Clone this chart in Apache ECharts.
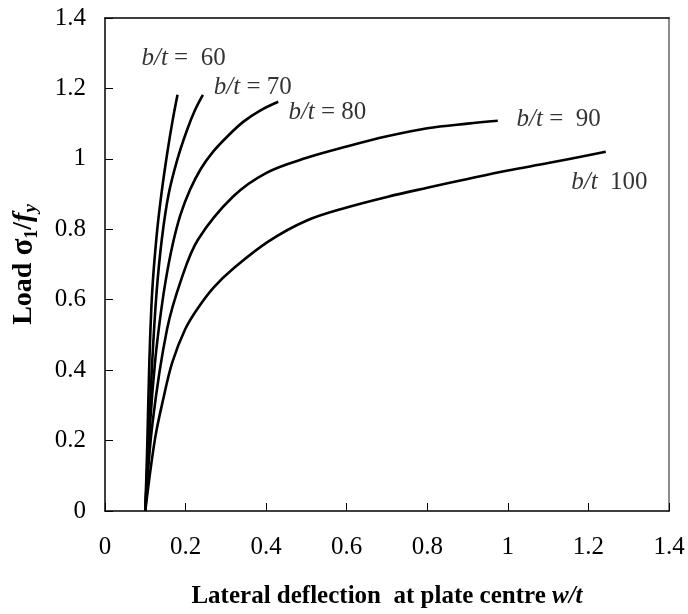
<!DOCTYPE html>
<html><head><meta charset="utf-8">
<script src="https://cdn.jsdelivr.net/npm/echarts@6/dist/echarts.min.js"></script>
<style>html,body{margin:0;padding:0;background:#fff}#c{width:688px;height:614px}</style>
</head><body><div id="c"></div>
<script>
// ---- data ----
const xTickMin = 0, xTickMax = 1.4, xTickStep = 0.2;
const yTickMin = 0, yTickMax = 1.4, yTickStep = 0.2;

const bt60 = [[0.1,0],[0.105,0.19],[0.11,0.42],[0.117,0.62],[0.128,0.78],[0.14,0.9],[0.155,1.02],[0.168,1.11],[0.18,1.182]];
const bt70 = [[0.1,0],[0.108,0.2],[0.117,0.42],[0.128,0.62],[0.141,0.771],[0.158,0.9],[0.18,1.0],[0.203,1.08],[0.224,1.14],[0.243,1.182]];
const bt80 = [[0.1,0],[0.112,0.25],[0.124,0.42],[0.136,0.54],[0.15,0.65],[0.167,0.752],[0.187,0.84],[0.211,0.912],[0.238,0.972],[0.268,1.02],[0.305,1.065],[0.343,1.105],[0.385,1.137],[0.43,1.162]];
const bt90 = [[0.1,0],[0.118,0.25],[0.154,0.516],[0.19,0.66],[0.231,0.771],[0.318,0.893],[0.402,0.961],[0.501,1.003],[0.6,1.035],[0.7,1.064],[0.8,1.087],[0.9,1.1],[0.975,1.108]];
const bt100 = [[0.1,0],[0.124,0.204],[0.145,0.32],[0.167,0.422],[0.199,0.516],[0.23,0.575],[0.27,0.635],[0.32,0.69],[0.405,0.765],[0.501,0.825],[0.6,0.862],[0.7,0.892],[0.8,0.918],[0.9,0.943],[1.0,0.967],[1.1,0.988],[1.243,1.02]];

const curves = [bt60, bt70, bt80, bt90, bt100];
const curveNames = ['b/t = 60', 'b/t = 70', 'b/t = 80', 'b/t = 90', 'b/t = 100'];

const labelTexts = ['{i|b/t}{n| =  60}', '{i|b/t}{n| = 70}', '{i|b/t}{n| = 80}', '{i|b/t}{n| =  90}', '{i|b/t}{n|  100}'];
const labelAnchors = [[0.195,1.284],[0.367,1.203],[0.552,1.132],[1.126,1.111],[1.252,0.932]];

const xTitle = '{b|Lateral deflection  at plate centre }{bi|w/t}';
const yTitle = '{b|Load }{s|σ}{sub|1}{b|/}{bi|f}{subi|y}';

// ---- chart ----
const FF = '"Liberation Serif","Times New Roman",serif';
const chart = echarts.init(document.getElementById('c'), null, {renderer:'canvas'});

const lineSeries = curves.map((d,i)=>({
  type:'line', name:curveNames[i], data:d, showSymbol:false, symbol:'none',
  smooth:0.35, lineStyle:{color:'#000', width:2.6}, silent:true, z:3
}));

const labelSeries = {
  type:'scatter', symbolSize:0, silent:true, z:4,
  data: labelAnchors.map((p,i)=>({name:labelTexts[i], value:p})),
  label:{
    show:true, position:'inside', formatter:p=>p.name, color:'#000',
    rich:{
      i:{fontFamily:FF, fontSize:25, fontStyle:'italic', color:'#000'},
      n:{fontFamily:FF, fontSize:25, color:'#000'}
    }
  }
};

const tickFmt = v => String(Math.round(v*10)/10);

chart.setOption({
  animation:false,
  backgroundColor:'#fff',
  grid:{left:105, right:19, top:18, bottom:102, containLabel:false},
  xAxis:[{
    type:'value', min:xTickMin, max:xTickMax, interval:xTickStep,
    axisLine:{show:true, onZero:false, lineStyle:{color:'#000', width:1.5}},
    axisTick:{show:true, inside:true, length:8, lineStyle:{color:'#000', width:1}},
    splitLine:{show:false},
    axisLabel:{color:'#000', fontFamily:FF, fontSize:25, margin:24, formatter:tickFmt},
    name:xTitle, nameLocation:'middle', nameGap:73,
    nameTextStyle:{rich:{
      b:{fontFamily:FF, fontSize:25, fontWeight:'bold', color:'#000'},
      bi:{fontFamily:FF, fontSize:25, fontWeight:'bold', fontStyle:'italic', color:'#000'}
    }}
  },{
    type:'value', position:'top', min:xTickMin, max:xTickMax,
    axisLine:{show:true, onZero:false, lineStyle:{color:'#000', width:1.5}},
    axisTick:{show:false}, axisLabel:{show:false}, splitLine:{show:false}
  }],
  yAxis:[{
    type:'value', min:yTickMin, max:yTickMax, interval:yTickStep,
    axisLine:{show:true, onZero:false, lineStyle:{color:'#000', width:1.5}},
    axisTick:{show:true, inside:true, length:8, lineStyle:{color:'#000', width:1}},
    splitLine:{show:false},
    axisLabel:{color:'#000', fontFamily:FF, fontSize:25, margin:19, formatter:tickFmt},
    name:yTitle, nameLocation:'middle', nameRotate:90, nameGap:64,
    nameTextStyle:{rich:{
      b:{fontFamily:FF, fontSize:28, fontWeight:'bold', color:'#000', lineHeight:34},
      s:{fontFamily:FF, fontSize:31, fontWeight:'bold', color:'#000', lineHeight:34},
      bi:{fontFamily:FF, fontSize:28, fontWeight:'bold', fontStyle:'italic', color:'#000', lineHeight:34},
      sub:{fontFamily:FF, fontSize:18, fontWeight:'bold', color:'#000', lineHeight:18, verticalAlign:'bottom'},
      subi:{fontFamily:FF, fontSize:19, fontWeight:'bold', fontStyle:'italic', color:'#000', lineHeight:18, verticalAlign:'bottom'}
    }}
  },{
    type:'value', position:'right', min:yTickMin, max:yTickMax,
    axisLine:{show:true, onZero:false, lineStyle:{color:'#8c8c8c', width:2}},
    axisTick:{show:false}, axisLabel:{show:false}, splitLine:{show:false}
  }],
  series:[...lineSeries, labelSeries]
});
</script></body></html>
